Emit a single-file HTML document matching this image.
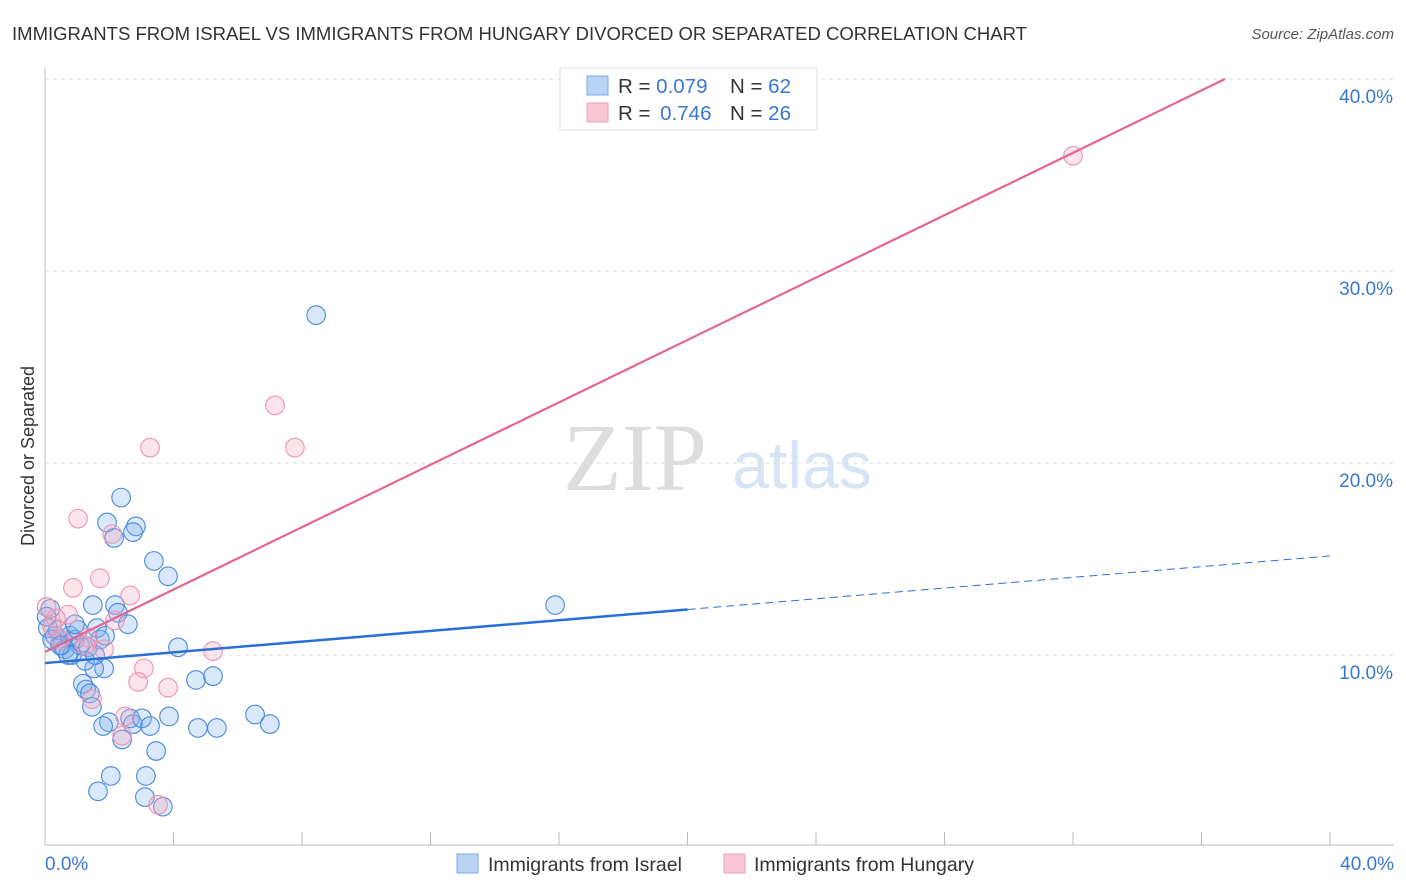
<!DOCTYPE html>
<html><head><meta charset="utf-8"><style>
body{margin:0;background:#fff;font-family:"Liberation Sans",sans-serif}
svg{display:block}
</style></head><body>
<svg id="chart" width="1406" height="892" xmlns="http://www.w3.org/2000/svg">
<text x="12" y="40" font-size="18.6" fill="#333" textLength="1015" lengthAdjust="spacingAndGlyphs">IMMIGRANTS FROM ISRAEL VS IMMIGRANTS FROM HUNGARY DIVORCED OR SEPARATED CORRELATION CHART</text>
<text x="1394" y="39" font-size="15" fill="#555" font-style="italic" text-anchor="end">Source: ZipAtlas.com</text>
<g>
<text x="635" y="490" font-family="Liberation Serif,serif" font-size="96" fill="#ddd" text-anchor="middle">ZIP</text>
<text x="802" y="488" font-size="66" fill="#d6e4f5" text-anchor="middle">atlas</text>
</g>
<g id="grid"></g>
<g id="axes"></g>
<g id="points"></g>
<g id="lines"></g>
<text transform="translate(34,456) rotate(-90)" font-size="18" fill="#333" text-anchor="middle">Divorced or Separated</text>
<text x="45" y="870" font-size="19" fill="#3a78d0">0.0%</text>
<text x="1394" y="870" font-size="19" fill="#3a78d0" text-anchor="end">40.0%</text>
<g>
<rect x="560" y="68" width="257" height="62" fill="#fff" stroke="#ddd"/>
<rect x="587" y="76" width="21" height="19" fill="#b9d3f5" stroke="#7aa8e6"/>
<rect x="587" y="103" width="21" height="19" fill="#f8c6d5" stroke="#eea0b8"/>
<text x="618" y="93" font-size="20.5" fill="#333">R = <tspan fill="#3a78d0">0.079</tspan><tspan x="730">N = </tspan><tspan fill="#3a78d0">62</tspan></text>
<text x="618" y="120" font-size="20.5" fill="#333">R = <tspan fill="#3a78d0" dx="4">0.746</tspan><tspan x="730">N = </tspan><tspan fill="#3a78d0">26</tspan></text>
</g>
<g>
<rect x="457" y="854" width="21" height="19" fill="#b9d3f5" stroke="#7aa8e6"/>
<text x="488" y="871" font-size="19.5" fill="#333">Immigrants from Israel</text>
<rect x="724" y="854" width="21" height="19" fill="#f8c6d5" stroke="#eea0b8"/>
<text x="754" y="871" font-size="19.5" fill="#333">Immigrants from Hungary</text>
</g>
</svg>
<script>
const yTicks=[10,20,30,40];
const yTickLabels=["10.0%","20.0%","30.0%","40.0%"];
const xTicks=[0,4,8,12,16,20,24,28,32,36,40];
const israelX=[2.37,1.93,2.83,2.74,2.15,3.39,3.83,1.49,2.18,2.27,2.58,1.62,0.16,0.09,0.31,0.53,0.78,0.93,1.09,0.62,0.84,1.34,1.71,1.84,1.53,1.18,1.28,1.40,1.46,4.14,4.70,5.23,1.99,1.81,2.65,2.74,3.02,3.27,3.86,4.76,5.35,6.54,7.00,3.46,2.05,3.14,1.65,3.11,3.67,8.44,15.88,0.22,0.40,1.03,0.72,0.05,2.40,0.47,1.25,1.87,0.93,1.56];
const israelY=[18.2,16.9,16.7,16.4,16.1,14.9,14.1,12.6,12.6,12.2,11.6,11.4,12.4,11.4,11.0,10.5,11.0,10.8,10.5,10.3,10.0,10.4,10.8,9.3,9.3,8.5,8.2,8.0,7.3,10.4,8.7,8.9,6.5,6.3,6.7,6.4,6.7,6.3,6.8,6.2,6.2,6.9,6.4,5.0,3.7,3.7,2.9,2.6,2.1,27.7,12.6,10.8,11.3,11.3,10.0,12.0,5.6,10.5,9.7,11.0,11.6,10.0];
const hungaryX=[32.00,7.16,7.78,3.27,1.03,2.09,1.71,0.87,2.65,0.72,0.34,0.05,2.18,1.34,1.84,5.23,3.08,2.90,3.83,2.49,2.40,3.52,0.22,0.47,1.46,1.25];
const hungaryY=[36.0,23.0,20.8,20.8,17.1,16.3,14.0,13.5,13.1,12.1,11.9,12.5,11.8,10.9,10.3,10.2,9.3,8.6,8.3,6.8,5.8,2.2,11.5,10.8,7.7,10.5];
const israelTrend=[9.58,15.16];
const hungaryTrend=[10.16,40];
const NS="http://www.w3.org/2000/svg";
const X=v=>45+v*32.125, Y=v=>655-(v-10)*19.2;
function mk(t,a,p){const e=document.createElementNS(NS,t);for(const k in a)e.setAttribute(k,a[k]);p.appendChild(e);return e;}
const grid=document.getElementById('grid');
yTicks.forEach((t,i)=>{
 const l=mk('line',{x1:45,x2:1394,y1:Y(t),y2:Y(t),stroke:'#ddd','stroke-dasharray':'4,4'},grid);
 
 
 const tx=mk('text',{x:1393,y:Y(t)+24,'font-size':19,fill:'#3a78d0','text-anchor':'end'},grid);
 tx.textContent=yTickLabels[i];
 
 
});
const axes=document.getElementById('axes');
const ya=mk('line',{x1:45,x2:45,y1:68,y2:845,stroke:'#bbb'},axes);


const xa=mk('line',{x1:45,x2:1394,y1:845,y2:845,stroke:'#bbb'},axes);


xTicks.forEach(t=>{const k=mk('line',{x1:X(t),x2:X(t),y1:832,y2:845,stroke:'#bbb'},axes);
 
 });
const pts=document.getElementById('points');
israelX.forEach((x,i)=>{const c=mk('circle',{cx:X(x),cy:Y(israelY[i]),r:9.3,fill:'rgba(130,178,238,0.3)',stroke:'#4a88dd','stroke-width':1.1},pts);
 
 });
hungaryX.forEach((x,i)=>{const c=mk('circle',{cx:X(x),cy:Y(hungaryY[i]),r:9.3,fill:'rgba(245,165,190,0.3)',stroke:'#ec94b0','stroke-width':1.1},pts);
 
 });
const ln=document.getElementById('lines');
const ibY=v=>israelTrend[0]+(israelTrend[1]-israelTrend[0])*v/40;
const l1=mk('line',{x1:X(0),y1:Y(ibY(0)),x2:X(20),y2:Y(ibY(20)),stroke:'#2a6fd6','stroke-width':2.5},ln);


const l2=mk('line',{x1:X(20),y1:Y(ibY(20)),x2:X(40),y2:Y(ibY(40)),stroke:'#2a6fd6','stroke-width':1,'stroke-dasharray':'8,5'},ln);


const hEnd=(hungaryTrend[1]>=40)?(1225-45)/32.125:40;
const hY=v=>hungaryTrend[0]+(40-hungaryTrend[0])*v/hEnd;
const l3=mk('line',{x1:X(0),y1:Y(hY(0)),x2:X(hEnd),y2:Y(hY(hEnd)),stroke:'#e56592','stroke-width':2.2},ln);


</script>
</body></html>
